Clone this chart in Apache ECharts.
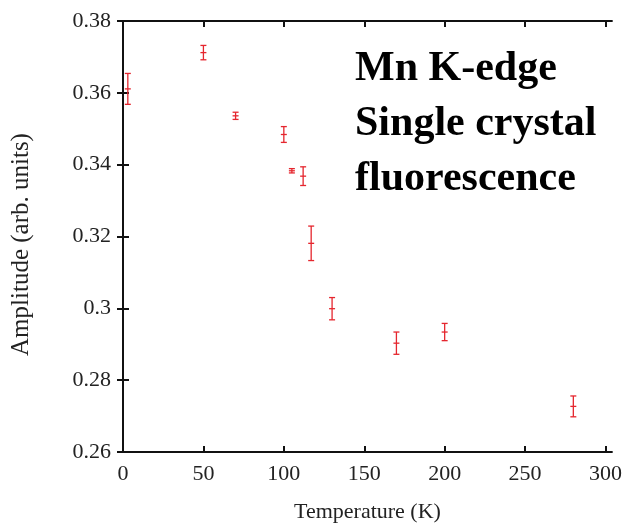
<!DOCTYPE html>
<html>
<head>
<meta charset="utf-8">
<script src="https://cdn.jsdelivr.net/npm/echarts@6/dist/echarts.min.js"></script>
<style>
  html, body { margin: 0; padding: 0; background: #fff; }
  #chart { width: 625px; height: 528px; }
</style>
</head>
<body>
<div id="chart"></div>
<script>
// Measured EXAFS amplitude vs. temperature, with symmetric error bars
const temperatures = [3, 50, 70, 100, 105, 112, 117, 130, 170, 200, 280];
const amplitudes   = [0.3611, 0.3712, 0.3536, 0.3484, 0.3383, 0.3368, 0.3181, 0.2999, 0.2903, 0.2934, 0.2727];
const errors       = [0.0043, 0.0020, 0.0010, 0.0022, 0.0006, 0.0026, 0.0048, 0.0031, 0.0031, 0.0024, 0.0029];

const xTicks = [0, 50, 100, 150, 200, 250, 300];
const yTicks = [0.26, 0.28, 0.30, 0.32, 0.34, 0.36, 0.38];
const annotationLines = ['Mn K-edge', 'Single crystal', 'fluorescence'];

const serif = '"Liberation Serif", "DejaVu Serif", serif';
const barColor = '#e5262e';

const errData = temperatures.map((t, i) => [t, amplitudes[i] - errors[i], amplitudes[i] + errors[i], amplitudes[i]]);

function renderErrorBar(params, api) {
  const x = api.value(0);
  const lo = api.coord([x, api.value(1)]);
  const hi = api.coord([x, api.value(2)]);
  const mid = api.coord([x, api.value(3)]);
  const cap = 3;
  const style = { stroke: barColor, lineWidth: 1.3, fill: null };
  return {
    type: 'group',
    children: [
      { type: 'line', shape: { x1: hi[0], y1: hi[1], x2: lo[0], y2: lo[1] }, style },
      { type: 'line', shape: { x1: hi[0] - cap, y1: hi[1], x2: hi[0] + cap, y2: hi[1] }, style },
      { type: 'line', shape: { x1: lo[0] - cap, y1: lo[1], x2: lo[0] + cap, y2: lo[1] }, style },
      { type: 'line', shape: { x1: mid[0] - cap, y1: mid[1], x2: mid[0] + cap, y2: mid[1] }, style }
    ]
  };
}

const axisLine = { show: true, lineStyle: { color: '#111', width: 2 } };
const tick = { inside: true, length: 6, lineStyle: { color: '#111', width: 2 } };

const chart = echarts.init(document.getElementById('chart'), null, { renderer: 'canvas' });
chart.setOption({
  animation: false,
  backgroundColor: '#fff',
  grid: { left: 123, right: 13, top: 21, bottom: 76, containLabel: false },
  xAxis: [
    {
      type: 'value', min: 0, max: 304, position: 'bottom',
      name: 'Temperature (K)', nameLocation: 'middle', nameGap: 49,
      nameTextStyle: { fontFamily: serif, fontSize: 22, color: '#222' },
      axisLine, axisTick: Object.assign({ customValues: xTicks }, tick),
      axisLabel: { customValues: xTicks, fontFamily: serif, fontSize: 22, color: '#222', margin: 11 },
      splitLine: { show: false }
    },
    {
      type: 'value', min: 0, max: 304, position: 'top',
      axisLine, axisTick: Object.assign({ customValues: xTicks }, tick),
      axisLabel: { show: false }, splitLine: { show: false }
    }
  ],
  yAxis: [
    {
      type: 'value', min: 0.26, max: 0.38, interval: 0.02, position: 'left',
      name: 'Amplitude (arb. units)', nameLocation: 'middle', nameGap: 89,
      nameTextStyle: { fontFamily: serif, fontSize: 25, color: '#222', padding: [0, 16, 0, 0] },
      axisLine, axisTick: tick,
      axisLabel: { fontFamily: serif, fontSize: 22, color: '#222', margin: 12 },
      splitLine: { show: false }
    },
    {
      type: 'value', min: 0.26, max: 0.38, interval: 0.02, position: 'right',
      axisLine, axisTick: tick, axisLabel: { show: false }, splitLine: { show: false }
    }
  ],
  series: [
    {
      type: 'custom',
      xAxisIndex: 0, yAxisIndex: 0,
      renderItem: renderErrorBar,
      encode: { x: 0, y: [1, 2, 3] },
      data: errData,
      z: 5
    }
  ],
  graphic: [
    {
      type: 'text', left: 355, top: 42,
      style: {
        text: annotationLines.join('\n'),
        font: 'bold 42px ' + serif,
        fill: '#000',
        lineHeight: 55
      }
    }
  ]
});
</script>
</body>
</html>
